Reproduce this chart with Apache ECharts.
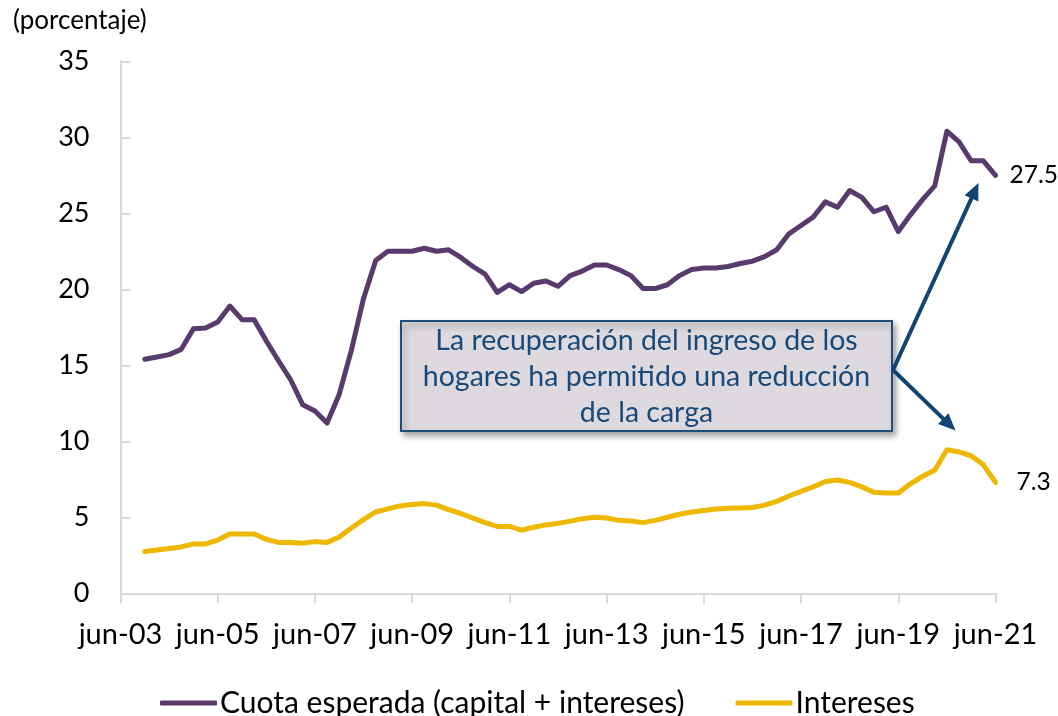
<!DOCTYPE html>
<html>
<head>
<meta charset="utf-8">
<script src="https://cdn.jsdelivr.net/npm/echarts@6/dist/echarts.min.js"></script>
<style>
  html, body { margin: 0; padding: 0; background: #fff; }
  #chart { width: 1058px; height: 716px; }
</style>
</head>
<body>
<div id="chart"></div>
<script>
const categories = [
  'jun-03','sep-03','dic-03',
  'mar-04','jun-04','sep-04','dic-04',
  'mar-05','jun-05','sep-05','dic-05',
  'mar-06','jun-06','sep-06','dic-06',
  'mar-07','jun-07','sep-07','dic-07',
  'mar-08','jun-08','sep-08','dic-08',
  'mar-09','jun-09','sep-09','dic-09',
  'mar-10','jun-10','sep-10','dic-10',
  'mar-11','jun-11','sep-11','dic-11',
  'mar-12','jun-12','sep-12','dic-12',
  'mar-13','jun-13','sep-13','dic-13',
  'mar-14','jun-14','sep-14','dic-14',
  'mar-15','jun-15','sep-15','dic-15',
  'mar-16','jun-16','sep-16','dic-16',
  'mar-17','jun-17','sep-17','dic-17',
  'mar-18','jun-18','sep-18','dic-18',
  'mar-19','jun-19','sep-19','dic-19',
  'mar-20','jun-20','sep-20','dic-20',
  'mar-21','jun-21'
];

const xTickLabels = ['jun-03','jun-05','jun-07','jun-09','jun-11','jun-13','jun-15','jun-17','jun-19','jun-21'];

const cuotaEsperada = [
  null, null, 15.4,
  15.55, 15.7, 16.05, 17.4,
  17.45, 17.85, 18.9, 18.0,
  18.0, 16.6, 15.3, 14.05,
  12.4, 12.0, 11.2, 13.1,
  16.0, 19.4, 21.9, 22.5,
  22.5, 22.5, 22.7, 22.5,
  22.6, 22.1, 21.5, 21.0,
  19.8, 20.3, 19.85, 20.4,
  20.55, 20.2, 20.9, 21.2,
  21.6, 21.6, 21.3, 20.9,
  20.05, 20.05, 20.3, 20.9,
  21.3, 21.4, 21.4, 21.5,
  21.7, 21.85, 22.15, 22.6,
  23.65, 24.2, 24.75, 25.75,
  25.4, 26.5, 26.05, 25.1,
  25.4, 23.8, 24.9, 25.9,
  26.8, 30.4, 29.7, 28.45,
  28.45, 27.5
];

const intereses = [
  null, null, 2.75,
  2.85, 2.95, 3.05, 3.25,
  3.25, 3.5, 3.9, 3.9,
  3.9, 3.55, 3.35, 3.35,
  3.3, 3.4, 3.35, 3.7,
  4.3, 4.85, 5.35, 5.55,
  5.75, 5.85, 5.9, 5.8,
  5.5, 5.25, 4.95, 4.65,
  4.4, 4.4, 4.15, 4.35,
  4.5, 4.6, 4.75, 4.9,
  5.0, 4.95, 4.8, 4.75,
  4.65, 4.8, 5.0, 5.2,
  5.35, 5.45, 5.55, 5.6,
  5.62, 5.65, 5.8, 6.05,
  6.4, 6.7, 7.0, 7.35,
  7.45, 7.3, 7.0, 6.65,
  6.6, 6.6, 7.2, 7.7,
  8.1, 9.45, 9.3, 9.05,
  8.45, 7.3
];

const seriesNames = ['Cuota esperada (capital + intereses)', 'Intereses'];
const annotationText = 'La recuperación del ingreso de los\nhogares ha permitido una reducción\nde la carga';

const FONT = 'Lato, "Open Sans", sans-serif';
const PURPLE = '#593A6D';
const YELLOW = '#EEB700';
const NAVY = '#124573';
const AXIS_GRAY = '#D9D9D9';

function arrow(x1, y1, x2, y2, color) {
  const dx = x2 - x1, dy = y2 - y1;
  const len = Math.sqrt(dx * dx + dy * dy);
  const ux = dx / len, uy = dy / len;
  const headLen = 17, headHalf = 7.5;
  const bx = x2 - ux * headLen, by = y2 - uy * headLen;
  const px = -uy, py = ux;
  return [
    {
      type: 'line', z: 100,
      shape: { x1: x1, y1: y1, x2: bx + ux * 2, y2: by + uy * 2 },
      style: { stroke: color, lineWidth: 4, lineCap: 'round' }
    },
    {
      type: 'polygon', z: 100,
      shape: { points: [[x2, y2], [bx + px * headHalf, by + py * headHalf], [bx - px * headHalf, by - py * headHalf]] },
      style: { fill: color }
    }
  ];
}

const chart = echarts.init(document.getElementById('chart'), null, { renderer: 'canvas' });

const option = {
  animation: false,
  backgroundColor: '#ffffff',
  textStyle: { fontFamily: FONT },
  title: {
    text: '(porcentaje)',
    left: 8, top: 3,
    textStyle: { fontFamily: FONT, fontSize: 26, fontWeight: 'normal', color: '#000' }
  },
  grid: {
    left: 120.5, right: 62.5, top: 61.3, bottom: 122.7,
    containLabel: false,
    outerBoundsMode: 'none'
  },
  legend: {
    left: 155, top: 683,
    itemGap: 51,
    itemWidth: 57, itemHeight: 5,
    icon: 'roundRect',
    textStyle: { fontFamily: FONT, fontSize: 30, color: '#000', padding: [0, 0, 0, -2] },
    data: seriesNames
  },
  xAxis: {
    type: 'category',
    data: categories,
    boundaryGap: false,
    axisLine: { show: true, lineStyle: { color: AXIS_GRAY, width: 2 } },
    axisTick: {
      show: true, length: 10,
      interval: function (idx, val) { return xTickLabels.indexOf(val) >= 0; },
      lineStyle: { color: AXIS_GRAY, width: 2 }
    },
    axisLabel: {
      show: true,
      interval: function (idx, val) { return xTickLabels.indexOf(val) >= 0; },
      fontFamily: FONT, fontSize: 29, color: '#000', margin: 27
    },
    splitLine: { show: false }
  },
  yAxis: {
    type: 'value',
    min: 0, max: 35, interval: 5,
    axisLine: { show: true, lineStyle: { color: AXIS_GRAY, width: 2 } },
    axisTick: { show: true, inside: true, length: 10, lineStyle: { color: AXIS_GRAY, width: 2 } },
    axisLabel: { fontFamily: FONT, fontSize: 27, color: '#000', margin: 31 },
    splitLine: { show: false }
  },
  series: [
    {
      name: seriesNames[0],
      type: 'line',
      data: cuotaEsperada,
      showSymbol: false, symbol: 'none',
      connectNulls: false,
      lineStyle: { color: PURPLE, width: 5, join: 'round', cap: 'round' },
      itemStyle: { color: PURPLE },
      endLabel: {
        show: true, distance: 14,
        formatter: function (p) { return p.value.toFixed(1); },
        fontFamily: FONT, fontSize: 24.5, color: '#000'
      },
      z: 3
    },
    {
      name: seriesNames[1],
      type: 'line',
      data: intereses,
      showSymbol: false, symbol: 'none',
      lineStyle: { color: YELLOW, width: 5, join: 'round', cap: 'round' },
      itemStyle: { color: YELLOW },
      endLabel: {
        show: true, distance: 21,
        formatter: function (p) { return p.value.toFixed(1); },
        fontFamily: FONT, fontSize: 24.5, color: '#000'
      },
      z: 3
    }
  ],
  graphic: [
    {
      type: 'rect', z: 50,
      shape: { x: 401, y: 321, width: 491, height: 110 },
      style: {
        fill: '#DDD9DE', stroke: '#1F4E79', lineWidth: 2,
        shadowBlur: 6, shadowOffsetX: 3, shadowOffsetY: 4, shadowColor: 'rgba(0,0,0,0.35)'
      }
    },
    {
      type: 'text', z: 60,
      x: 646.5, y: 377,
      style: {
        text: annotationText,
        fill: '#174A7A',
        font: '28.5px ' + FONT,
        align: 'center', verticalAlign: 'middle',
        lineHeight: 36
      }
    }
  ].concat(arrow(893, 370, 978.5, 183, NAVY)).concat(arrow(893, 370, 955.5, 430.5, NAVY))
};

chart.setOption(option);
</script>
</body>
</html>
